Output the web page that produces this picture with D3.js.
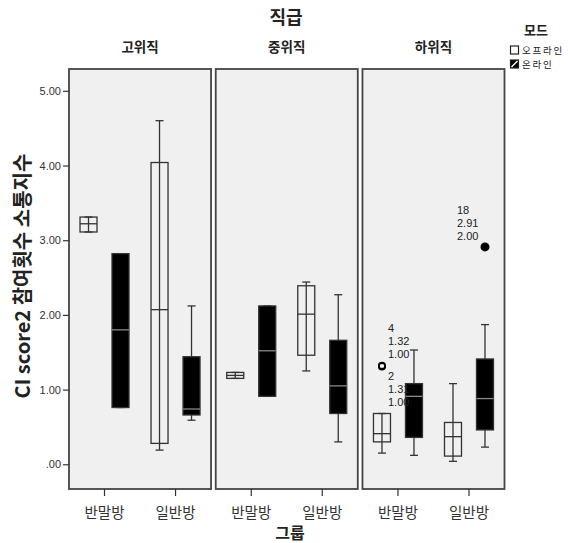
<!DOCTYPE html>
<html>
<head>
<meta charset="utf-8">
<script src="https://cdn.jsdelivr.net/npm/d3@7"></script>
<style>
  body { margin: 0; background: #fff; }
  text { font-family: "Noto Sans CJK KR", "Liberation Sans", sans-serif; }
</style>
</head>
<body>
<div id="chart"></div>
<script>
// Facets, groups and modes
const ranks = ["고위직", "중위직", "하위직"];
const groups = ["반말방", "일반방"];
const modes = ["오프라인", "온라인"];
const yTicks = [0, 1, 2, 3, 4, 5];

// Box stats, ordered rank -> group -> mode
const boxMin = [3.11, 0.76, 0.19, 0.59, 1.15, 0.91, 1.25, 0.30, 0.15, 0.12, 0.04, 0.23];
const boxQ1  = [3.11, 0.76, 0.28, 0.66, 1.15, 0.91, 1.46, 0.68, 0.30, 0.36, 0.11, 0.46];
const boxMed = [3.22, 1.80, 2.07, 0.74, 1.19, 1.52, 2.01, 1.05, 0.41, 0.91, 0.37, 0.88];
const boxQ3  = [3.31, 2.82, 4.04, 1.44, 1.23, 2.12, 2.39, 1.66, 0.68, 1.08, 0.56, 1.41];
const boxMax = [3.31, 2.82, 4.60, 2.12, 1.23, 2.12, 2.44, 2.27, 0.68, 1.53, 1.08, 1.87];

// Outliers
const outRank = ["하위직", "하위직", "하위직"];
const outGroup = ["반말방", "반말방", "일반방"];
const outMode = ["오프라인", "오프라인", "온라인"];
const outValue = [1.32, 1.31, 2.91];
const outLabels = [["4", "1.32", "1.00"], ["2", "1.31", "1.00"], ["18", "2.91", "2.00"]];

const W = 570, H = 543;
const svg = d3.select("#chart").append("svg")
    .attr("width", W)
    .attr("height", H);

const plotTop = 69, plotBottom = 489;

// Scales
const xRank = d3.scaleBand()
    .domain(ranks)
    .range([69, 504.5])
    .paddingInner(0.032);

const xGroup = d3.scaleBand()
    .domain(groups)
    .range([0, xRank.bandwidth()]);

const xMode = d3.scalePoint()
    .domain(modes)
    .range([-16, 16]);

const y = d3.scaleLinear()
    .domain([0, 5])
    .range([464.3, 90.8]);

const boxW = 17;
const capW = 8;
const stroke = "#333";

// Build box data
const boxes = [];
ranks.forEach((r, i) => groups.forEach((g, j) => modes.forEach((m, k) => {
    const idx = i * 4 + j * 2 + k;
    boxes.push({
        rank: r, group: g, mode: m,
        min: boxMin[idx], q1: boxQ1[idx], med: boxMed[idx], q3: boxQ3[idx], max: boxMax[idx]
    });
})));

const cx = (r, g, m) => xRank(r) + xGroup(g) + xGroup.bandwidth() / 2 + xMode(m);

// Panels
ranks.forEach(r => {
    svg.append("rect")
        .attr("x", xRank(r))
        .attr("y", plotTop)
        .attr("width", xRank.bandwidth())
        .attr("height", plotBottom - plotTop)
        .attr("fill", "#f0f0f0")
        .attr("stroke", "#444")
        .attr("stroke-width", 1.8);

    svg.append("text")
        .attr("x", xRank(r) + xRank.bandwidth() / 2)
        .attr("y", 52)
        .attr("text-anchor", "middle")
        .style("font-size", "13.5px")
        .style("font-weight", "bold")
        .attr("fill", "#222")
        .text(r);

    // category ticks + labels
    groups.forEach(g => {
        const gx = xRank(r) + xGroup(g) + xGroup.bandwidth() / 2;
        svg.append("line")
            .attr("x1", gx).attr("x2", gx)
            .attr("y1", plotBottom).attr("y2", plotBottom + 7)
            .attr("stroke", "#333")
            .attr("stroke-width", 1.2);
        svg.append("text")
            .attr("x", gx)
            .attr("y", 518)
            .attr("text-anchor", "middle")
            .style("font-size", "14.5px")
            .attr("fill", "#333")
            .text(g);
    });
});

// Y axis
const yAxis = d3.axisLeft(y)
    .tickValues(yTicks)
    .tickSize(6)
    .tickPadding(2)
    .tickFormat(d => d === 0 ? ".00" : d.toFixed(2));

svg.append("g")
    .attr("transform", `translate(${xRank(ranks[0])}, 0)`)
    .call(yAxis)
    .call(g => g.select(".domain").remove())
    .call(g => g.selectAll("line").attr("stroke", "#333").attr("stroke-width", 1.2))
    .call(g => g.selectAll("text")
        .style("font-family", "'Liberation Sans', Arial, sans-serif")
        .style("font-size", "11px")
        .attr("fill", "#333"));

// Boxes
const bg = svg.append("g");
boxes.forEach(d => {
    const x = cx(d.rank, d.group, d.mode);
    const online = d.mode === "온라인";
    // whisker line
    bg.append("line")
        .attr("x1", x).attr("x2", x)
        .attr("y1", y(d.max)).attr("y2", y(d.min))
        .attr("stroke", stroke).attr("stroke-width", 1.3);
    // caps
    [d.max, d.min].forEach(v => {
        bg.append("line")
            .attr("x1", x - capW / 2).attr("x2", x + capW / 2)
            .attr("y1", y(v)).attr("y2", y(v))
            .attr("stroke", stroke).attr("stroke-width", 1.3);
    });
    // box
    bg.append("rect")
        .attr("x", x - boxW / 2)
        .attr("y", y(d.q3))
        .attr("width", boxW)
        .attr("height", Math.max(1, y(d.q1) - y(d.q3)))
        .attr("fill", online ? "#000" : "none")
        .attr("stroke", stroke)
        .attr("stroke-width", 1.3);
    // median
    bg.append("line")
        .attr("x1", x - boxW / 2).attr("x2", x + boxW / 2)
        .attr("y1", y(d.med)).attr("y2", y(d.med))
        .attr("stroke", online ? "#888" : stroke)
        .attr("stroke-width", 1.3);
});

// Outliers
outValue.forEach((v, i) => {
    const x = cx(outRank[i], outGroup[i], outMode[i]);
    const online = outMode[i] === "온라인";
    bg.append("circle")
        .attr("cx", x)
        .attr("cy", y(v))
        .attr("r", online ? 4.5 : 3.2)
        .attr("fill", online ? "#000" : "none")
        .attr("stroke", "#000")
        .attr("stroke-width", online ? 0 : 1.6);
});

// Outlier labels: stacked case id / value / mode
const labelPos = [
    { dx: 6, dy: -34 },
    { dx: 6, dy: 14 },
    { dx: -28, dy: -33 }
];
outLabels.forEach((lines, i) => {
    const x = cx(outRank[i], outGroup[i], outMode[i]) + labelPos[i].dx;
    const y0 = y(outValue[i]) + labelPos[i].dy;
    lines.forEach((s, k) => {
        svg.append("text")
            .attr("x", x)
            .attr("y", y0 + k * 13)
            .style("font-family", "'Liberation Sans', Arial, sans-serif")
            .style("font-size", "11px")
            .attr("fill", "#222")
            .text(s);
    });
});

// Titles
svg.append("text")
    .attr("x", 286)
    .attr("y", 24)
    .attr("text-anchor", "middle")
    .style("font-size", "18px")
    .style("font-weight", "bold")
    .attr("fill", "#222")
    .text("직급");

svg.append("text")
    .attr("x", 290)
    .attr("y", 539)
    .attr("text-anchor", "middle")
    .style("font-size", "16px")
    .style("font-weight", "bold")
    .attr("fill", "#222")
    .text("그룹");

svg.append("text")
    .attr("transform", "rotate(-90)")
    .attr("x", -276)
    .attr("y", 30)
    .attr("text-anchor", "middle")
    .style("font-size", "20px")
    .style("font-weight", "bold")
    .attr("fill", "#222")
    .text("CI score2 참여횟수 소통지수");

// Legend
const legend = svg.append("g");
legend.append("text")
    .attr("x", 536)
    .attr("y", 35)
    .attr("text-anchor", "middle")
    .style("font-size", "13px")
    .style("font-weight", "bold")
    .attr("fill", "#222")
    .text("모드");

modes.forEach((m, i) => {
    const ly = 46 + i * 14;
    legend.append("rect")
        .attr("x", 510.5)
        .attr("y", ly)
        .attr("width", 8)
        .attr("height", 8)
        .attr("fill", i === 0 ? "#fff" : "#000")
        .attr("stroke", "#222")
        .attr("stroke-width", 1.2);
    if (i === 1) {
        legend.append("line")
            .attr("x1", 511.5).attr("y1", ly + 7)
            .attr("x2", 517.5).attr("y2", ly + 1)
            .attr("stroke", "#fff")
            .attr("stroke-width", 1.5);
    }
    legend.append("text")
        .attr("x", 522)
        .attr("y", ly + 8)
        .style("font-size", "9.5px")
        .style("letter-spacing", "1.8px")
        .attr("fill", "#222")
        .text(m);
});
</script>
</body>
</html>
